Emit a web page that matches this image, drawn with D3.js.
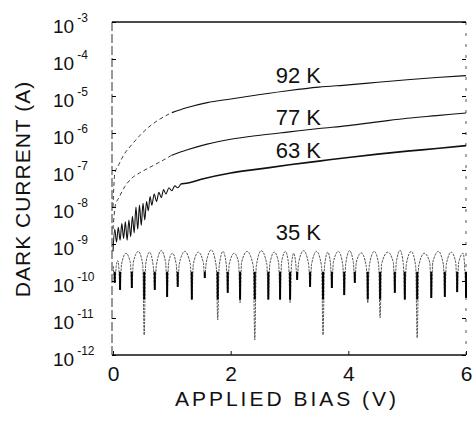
<!DOCTYPE html>
<html>
<head>
<meta charset="utf-8">
<script src="https://cdn.jsdelivr.net/npm/d3@7"></script>
<style>
  body { margin: 0; background: #fff; }
  svg { display: block; }
  text { font-family: "Liberation Sans", Arial, Helvetica, sans-serif; fill: #111; }
</style>
</head>
<body>
<div id="chart"></div>
<script>
// axis ticks
const biasTicks = [0, 2, 4, 6];
const decadeExps = [-12, -11, -10, -9, -8, -7, -6, -5, -4, -3];
const curveNames = ["92 K", "77 K", "63 K", "35 K"];

// 92 K  (bias in V, log10 of current in A)
const bias92 = [0.0, 0.03, 0.1, 0.2, 0.3, 0.45, 0.6, 0.8, 1.0, 1.25, 1.6, 2.0, 2.5, 3.0, 3.5, 4.0, 4.5, 5.0, 5.5, 6.0];
const log92  = [-8.0, -7.1, -6.85, -6.55, -6.35, -6.08, -5.85, -5.62, -5.45, -5.32, -5.18, -5.08, -4.96, -4.85, -4.76, -4.7, -4.63, -4.56, -4.5, -4.45];

// 77 K
const bias77 = [0.0, 0.04, 0.1, 0.2, 0.3, 0.45, 0.6, 0.8, 1.0, 1.25, 1.6, 2.0, 2.5, 3.0, 3.5, 4.0, 4.5, 5.0, 5.5, 6.0];
const log77  = [-8.6, -7.95, -7.75, -7.45, -7.25, -7.08, -6.95, -6.78, -6.6, -6.46, -6.3, -6.17, -6.06, -5.97, -5.88, -5.8, -5.7, -5.6, -5.53, -5.46];

// 63 K (noisy at low bias)
const bias63 = [0.0, 0.03, 0.06, 0.09, 0.12, 0.15, 0.18, 0.21, 0.24, 0.27, 0.30, 0.33, 0.36, 0.39, 0.42, 0.45, 0.48, 0.51, 0.54, 0.57, 0.60, 0.63, 0.66, 0.70, 0.74, 0.78, 0.82, 0.86, 0.90, 0.95, 1.0, 1.05, 1.1, 1.15, 1.25, 1.5, 2.0, 2.5, 3.0, 3.5, 4.0, 4.5, 5.0, 5.5, 6.0];
const log63  = [-9.2, -8.6, -8.95, -8.55, -8.9, -8.45, -8.85, -8.4, -8.9, -8.35, -8.8, -8.25, -8.7, -8.0, -8.6, -7.95, -8.5, -7.9, -8.35, -7.85, -8.1, -7.72, -7.95, -7.65, -7.85, -7.6, -7.75, -7.53, -7.65, -7.48, -7.56, -7.43, -7.48, -7.38, -7.36, -7.25, -7.08, -6.97, -6.86, -6.76, -6.66, -6.57, -6.49, -6.42, -6.34];

// 35 K: arch tops, sharp dips and the foot level each side of a dip
const peak35Bias = [0.08, 0.22, 0.43, 0.62, 0.82, 1.01, 1.22, 1.45, 1.67, 1.87, 2.06, 2.28, 2.52, 2.74, 2.93, 3.07, 3.24, 3.46, 3.65, 3.83, 4.02, 4.22, 4.44, 4.67, 4.88, 5.07, 5.29, 5.53, 5.75, 5.95];
const peak35Log  = [-9.45, -9.25, -9.2, -9.22, -9.18, -9.25, -9.2, -9.22, -9.16, -9.2, -9.25, -9.2, -9.18, -9.22, -9.2, -9.25, -9.18, -9.2, -9.22, -9.2, -9.18, -9.24, -9.2, -9.22, -9.17, -9.2, -9.25, -9.2, -9.22, -9.25];
const dip35Bias  = [0.03, 0.12, 0.32, 0.53, 0.71, 0.92, 1.10, 1.34, 1.56, 1.78, 1.95, 2.16, 2.41, 2.64, 2.84, 3.01, 3.13, 3.35, 3.57, 3.72, 3.93, 4.11, 4.33, 4.54, 4.79, 4.96, 5.17, 5.41, 5.64, 5.85, 6.0];
const dip35Log   = [-10.05, -10.24, -10.19, -11.46, -10.24, -10.43, -10.16, -10.51, -9.92, -11.05, -10.32, -10.59, -11.59, -10.51, -10.51, -10.59, -9.97, -10.16, -11.46, -10.19, -10.38, -10.05, -10.59, -11.0, -10.32, -10.51, -11.54, -10.46, -10.43, -10.3, -10.45];
const foot35Log  = [-9.6, -9.55, -9.5, -9.55, -9.6, -9.5, -9.55, -9.55, -9.5, -9.6, -9.55, -9.5, -9.6, -9.55, -9.5, -9.55, -9.5, -9.55, -9.6, -9.5, -9.55, -9.5, -9.6, -9.55, -9.5, -9.55, -9.6, -9.5, -9.55, -9.5, -9.55];

const W = 472, H = 421;
const plot = { left: 113, right: 466, top: 22, bottom: 355 };
const dipHalfWidth = 0.025; // V

const svg = d3.select("#chart")
    .append("svg")
    .attr("width", W)
    .attr("height", H);

const x = d3.scaleLinear()
    .domain([0, 6])
    .range([plot.left, plot.right]);

const y = d3.scaleLog()
    .domain([1e-12, 1e-3])
    .range([plot.bottom, plot.top]);

function toPoints(bias, logs) {
    return bias.map((b, i) => ({ v: b, i: Math.pow(10, logs[i]) }));
}

const line = d3.line()
    .x(d => x(d.v))
    .y(d => y(d.i))
    .curve(d3.curveMonotoneX);

// frame
svg.append("line")
    .attr("x1", plot.left - 1).attr("x2", plot.right)
    .attr("y1", plot.top).attr("y2", plot.top)
    .attr("stroke", "#111").attr("stroke-width", 1.4);
svg.append("line")
    .attr("x1", plot.left - 1).attr("x2", plot.right)
    .attr("y1", plot.bottom).attr("y2", plot.bottom)
    .attr("stroke", "#111").attr("stroke-width", 1.3);
svg.append("line")
    .attr("x1", plot.left - 1).attr("x2", plot.left - 1)
    .attr("y1", plot.top).attr("y2", plot.bottom)
    .attr("stroke", "#333").attr("stroke-width", 1)
    .attr("stroke-dasharray", "9 3");
svg.append("line")
    .attr("x1", plot.right).attr("x2", plot.right)
    .attr("y1", plot.top).attr("y2", plot.bottom)
    .attr("stroke", "#555").attr("stroke-width", 1)
    .attr("stroke-dasharray", "3 8");

// inward ticks
const decadeValues = decadeExps.map(e => Math.pow(10, e));
svg.append("g")
    .attr("transform", `translate(${plot.left - 1},0)`)
    .call(d3.axisLeft(y).tickValues(decadeValues).tickSize(-4).tickFormat(""))
    .call(g => g.select(".domain").remove());
svg.append("g")
    .attr("transform", `translate(${plot.right},0)`)
    .call(d3.axisRight(y).tickValues(decadeValues).tickSize(-4).tickFormat(""))
    .call(g => g.select(".domain").remove());

const xAxis = svg.append("g")
    .attr("transform", `translate(0,${plot.bottom})`)
    .call(d3.axisBottom(x).tickValues(biasTicks).tickSizeInner(-4).tickSizeOuter(0).tickPadding(11).tickFormat(d3.format("d")))
    .call(g => g.select(".domain").remove());
xAxis.selectAll("text")
    .attr("font-size", 21)
    .attr("fill", "#111")
    .style("font-family", "'Liberation Sans', Arial, sans-serif");
xAxis.selectAll("line").attr("stroke", "#111");

// y tick labels 10^n
const yLab = svg.append("g");
decadeExps.forEach(e => {
    const t = yLab.append("text")
        .attr("x", 53)
        .attr("y", y(Math.pow(10, e)) + 11)
        .attr("font-size", 19);
    t.append("tspan").text("10");
    t.append("tspan")
        .attr("dx", 3)
        .attr("dy", -11)
        .attr("font-size", 12)
        .text("-" + (-e));
});

// curves
const pts92 = toPoints(bias92, log92);
const pts77 = toPoints(bias77, log77);
const pts63 = toPoints(bias63, log63);

function drawCurve(pts, cut, width) {
    svg.append("path")
        .datum(pts.filter(d => d.v <= cut))
        .attr("d", line)
        .attr("fill", "none")
        .attr("stroke", "#222")
        .attr("stroke-width", width * 0.8)
        .attr("stroke-dasharray", "4 3");
    svg.append("path")
        .datum(pts.filter(d => d.v >= cut))
        .attr("d", line)
        .attr("fill", "none")
        .attr("stroke", "#111")
        .attr("stroke-width", width);
}
drawCurve(pts92, 1.0, 1.1);
drawCurve(pts77, 1.0, 1.1);

svg.append("path")
    .datum(pts63.filter(d => d.v <= 1.15))
    .attr("d", line)
    .attr("fill", "none")
    .attr("stroke", "#111")
    .attr("stroke-width", 1.1);
svg.append("path")
    .datum(pts63.filter(d => d.v >= 1.15))
    .attr("d", line)
    .attr("fill", "none")
    .attr("stroke", "#111")
    .attr("stroke-width", 1.6);

// 35 K
const dips = toPoints(dip35Bias, dip35Log);
const feet = [];
dip35Bias.forEach((b, k) => {
    const fi = Math.pow(10, foot35Log[k]);
    if (b - dipHalfWidth > 0) feet.push({ v: b - dipHalfWidth, i: fi });
    if (b + dipHalfWidth < 6) feet.push({ v: b + dipHalfWidth, i: fi });
});
const pts35 = toPoints(peak35Bias, peak35Log)
    .concat(dips, feet)
    .sort((a, b) => a.v - b.v);

svg.append("path")
    .datum(pts35)
    .attr("d", line)
    .attr("fill", "none")
    .attr("stroke", "#444")
    .attr("stroke-width", 0.9)
    .attr("stroke-dasharray", "2.5 1");

svg.append("g")
    .selectAll("line")
    .data(dips)
    .enter()
    .append("line")
    .attr("x1", d => x(d.v))
    .attr("x2", d => x(d.v))
    .attr("y1", y(Math.pow(10, -9.75)))
    .attr("y2", d => y(Math.max(d.i, Math.pow(10, -10.5))))
    .attr("stroke", "#000")
    .attr("stroke-width", 2);

// curve labels
const labelBias = 3.15;
const labelLog = [-4.65, -5.78, -6.68, -8.89];
curveNames.forEach((name, k) => {
    svg.append("text")
        .attr("x", x(labelBias))
        .attr("y", y(Math.pow(10, labelLog[k])))
        .attr("text-anchor", "middle")
        .attr("font-size", 22)
        .text(name);
});

// axis titles
svg.append("text")
    .attr("x", 287)
    .attr("y", 406)
    .attr("text-anchor", "middle")
    .attr("font-size", 21)
    .attr("letter-spacing", 3)
    .text("APPLIED BIAS  (V)");

svg.append("text")
    .attr("transform", "translate(30,189) rotate(-90)")
    .attr("text-anchor", "middle")
    .attr("font-size", 21)
    .attr("letter-spacing", 1)
    .text("DARK CURRENT  (A)");
</script>
</body>
</html>
